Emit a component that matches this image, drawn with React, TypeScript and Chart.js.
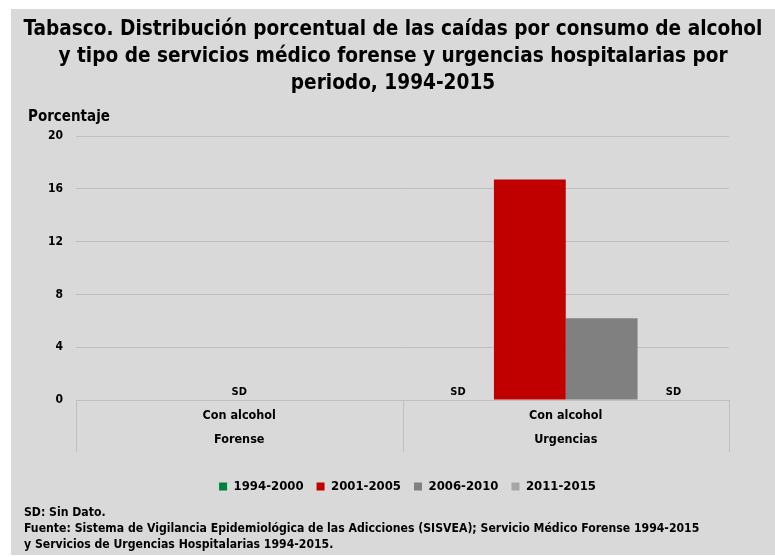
import React, { useEffect, useRef } from "react";
import { Chart, registerables } from "chart.js";

Chart.register(...registerables);

const categories = ["Forense", "Urgencias"];
const subLabel = "Con alcohol";
const seriesNames = ["1994-2000", "2001-2005", "2006-2010", "2011-2015"];
const s1994 = [null, null];
const s2001 = [null, 16.7];
const s2006 = [null, 6.2];
const s2011 = [null, null];
const seriesColors = ["#00823b", "#c00000", "#808080", "#a6a6a6"];
const yTicks = [0, 4, 8, 12, 16, 20];
const titleLines = [
  "Tabasco. Distribución porcentual de las caídas por consumo de alcohol",
  "y tipo de servicios médico forense y urgencias hospitalarias por",
  "periodo, 1994-2015",
];
const notes = [
  "SD: Sin Dato.",
  "Fuente: Sistema de Vigilancia Epidemiológica de las Adicciones (SISVEA); Servicio Médico Forense 1994-2015",
  "y Servicios de Urgencias Hospitalarias 1994-2015.",
];
// SD label placement: [categoryIndex, datasetIndex or -1 for category centre]
const sdMarks: [number, number][] = [
  [0, -1],
  [1, 0],
  [1, 3],
];

const FONT = '"Liberation Sans Narrow", "DejaVu Sans Condensed", sans-serif';

export default function App() {
  const ref = useRef<HTMLCanvasElement>(null);
  useEffect(() => {
    const canvas = ref.current!;
    const extras = {
      id: "extras",
      afterLayout(chart: any) {
        const lg = chart.legend;
        if (lg) {
          lg.left += 5;
          lg.right += 5;
        }
      },
      afterDraw(chart: any) {
        const ctx = chart.ctx as CanvasRenderingContext2D;
        const area = chart.chartArea;
        const x = chart.scales.x;
        ctx.save();
        ctx.fillStyle = "#000";
        // title
        ctx.font = `bold 20.6px ${FONT}`;
        ctx.textAlign = "center";
        ctx.textBaseline = "middle";
        titleLines.forEach((t, i) => ctx.fillText(t, chart.width / 2, 21 + i * 27));
        // axis title
        ctx.font = `bold 15px ${FONT}`;
        ctx.textAlign = "left";
        ctx.fillText("Porcentaje", 17, 108);
        // notes
        ctx.font = `bold 12.15px ${FONT}`;
        notes.forEach((t, i) => ctx.fillText(t, 13, 503.5 + i * 16));
        // category labels and separators
        const n = categories.length;
        const half = (x.getPixelForValue(1) - x.getPixelForValue(0)) / 2;
        ctx.strokeStyle = "#bfbfbf";
        ctx.lineWidth = 1;
        for (let i = 0; i <= n; i++) {
          const px = Math.round(x.getPixelForValue(0) - half + i * 2 * half) + 0.5;
          ctx.beginPath();
          ctx.moveTo(px, area.bottom);
          ctx.lineTo(px, area.bottom + 52);
          ctx.stroke();
        }
        ctx.textAlign = "center";
        ctx.font = `bold 12.5px ${FONT}`;
        categories.forEach((c, i) => {
          const cx = x.getPixelForValue(i);
          ctx.fillText(subLabel, cx, area.bottom + 16);
          ctx.fillText(c, cx, area.bottom + 40);
        });
        // SD labels
        ctx.font = `bold 11px ${FONT}`;
        sdMarks.forEach(([ci, di]) => {
          const px = di < 0 ? x.getPixelForValue(ci) : chart.getDatasetMeta(di).data[ci].x;
          ctx.fillText("SD", px, area.bottom - 8);
        });
        ctx.restore();
      },
    };
    const chart = new Chart(canvas, {
      type: "bar",
      data: {
        labels: categories,
        datasets: [s1994, s2001, s2006, s2011].map((d, i) => ({
          label: seriesNames[i],
          data: d,
          backgroundColor: seriesColors[i],
          borderWidth: 0,
          categoryPercentage: 0.88,
          barPercentage: 1,
        })),
      },
      options: {
        responsive: false,
        animation: false,
        layout: { padding: { top: 127, left: 0, right: 46, bottom: 52 } },
        plugins: {
          title: { display: false },
          tooltip: { enabled: false },
          legend: {
            position: "bottom",
            fullSize: false,
            labels: {
              boxWidth: 8,
              boxHeight: 8,
              padding: 13,
              color: "#000",
              font: { family: FONT, size: 13, weight: "bold" },
            },
          },
        },
        scales: {
          x: {
            ticks: { display: false },
            grid: { display: false },
            border: { color: "#bfbfbf" },
            afterFit: (s: any) => {
              s.height = 67;
            },
          },
          y: {
            min: 0,
            max: 20,
            afterBuildTicks: (s: any) => {
              s.ticks = yTicks.map((v) => ({ value: v }));
            },
            ticks: {
              color: "#000",
              padding: 13,
              font: { family: FONT, size: 12, weight: "bold" },
            },
            grid: { color: "#bfbfbf", drawTicks: false },
            border: { display: false },
            afterFit: (s: any) => {
              s.width = 65;
            },
          },
        },
      },
      plugins: [extras],
    });
    return () => chart.destroy();
  }, []);
  return (
    <div
      style={{
        position: "absolute",
        left: 11,
        top: 9,
        width: 764,
        height: 546,
        background: "#d9d9d9",
      }}
    >
      <canvas ref={ref} width={764} height={546} />
    </div>
  );
}
